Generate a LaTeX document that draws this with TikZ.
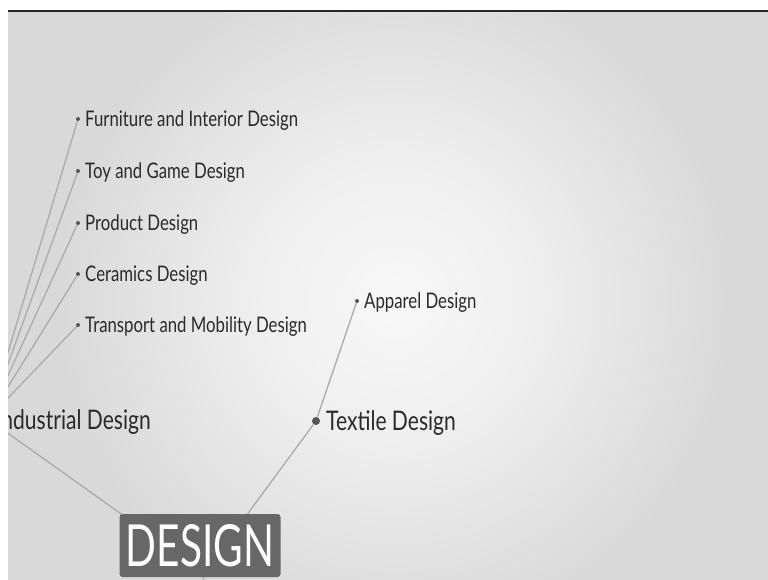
\documentclass[tikz,border=0pt]{standalone}
\usepackage{fontspec}
\setmainfont[FakeStretch=0.78]{Lato}
\newfontfamily\designfont[FakeStretch=0.70]{Lato}
\definecolor{bgin}{HTML}{F8F8F8}
\definecolor{bgout}{HTML}{D9D9D9}
\definecolor{linec}{HTML}{ABABAB}
\definecolor{dotc}{HTML}{555555}
\definecolor{txtc}{HTML}{2A2A2A}
\definecolor{boxc}{HTML}{676767}
\pgfdeclareradialshading{bgrad}{\pgfpoint{0bp}{0bp}}{color(0bp)=(bgin); color(10bp)=(bgin!72!bgout); color(25bp)=(bgout); color(50bp)=(bgout)}
\tikzset{
  dot/.style={circle, fill=dotc, inner sep=0pt, minimum size=4pt},
  bigdot/.style={circle, fill=dotc, inner sep=0pt, minimum size=8pt},
  small/.style={anchor=west, text=txtc, inner sep=0pt, yshift=-2pt, font=\fontsize{21.5}{24}\selectfont},
  mid/.style={text=txtc, inner sep=0pt, yshift=-2pt, font=\fontsize{27}{30}\selectfont},
  conn/.style={draw=linec, line width=1.3pt},
  rootbox/.style={fill=boxc, rounded corners=3pt, text=white, minimum width=161pt, minimum height=63pt, inner sep=0pt, font=\designfont\fontsize{58}{60}\selectfont}
}
\begin{document}
\begin{tikzpicture}[x=1pt,y=-1pt]
\useasboundingbox (0,0) rectangle (768,580);
\fill[white] (0,0) rectangle (768,580);
\begin{scope}
\clip (8,11) rectangle (768,580);
\fill[bgout] (8,11) rectangle (768,580);
\shade[shading=bgrad] (395,300) circle (340);
% hubs
\coordinate (dhub) at (204,573);
\coordinate (down) at (200,610);
\node[bigdot] (ind) at (-12,419) {};
\node[mid, anchor=east] (indT) at (151,420) {Industrial Design};
% children of industrial design
\node[dot] (furn) at (78,119) {};
\node[small] (furnT) at (85,119) {Furniture and Interior Design};
\node[dot] (toy) at (78,171) {};
\node[small] (toyT) at (85,171) {Toy and Game Design};
\node[dot] (prod) at (78,223) {};
\node[small] (prodT) at (85,223) {Product Design};
\node[dot] (cer) at (78,274) {};
\node[small] (cerT) at (85,274) {Ceramics Design};
\node[dot] (trans) at (78,325) {};
\node[small] (transT) at (85,325) {Transport and Mobility Design};
% textile branch
\node[bigdot] (tex) at (316,421) {};
\node[mid, anchor=west] (texT) at (326,421) {Textile Design};
\node[dot] (app) at (357,301) {};
\node[small] (appT) at (364,301) {Apparel Design};
% connectors
\draw[conn] (furn) -- (ind);
\draw[conn] (toy) -- (ind);
\draw[conn] (prod) -- (ind);
\draw[conn] (cer) -- (ind);
\draw[conn] (trans) -- (ind);
\draw[conn] (ind) -- (dhub);
\draw[conn] (tex) -- (dhub);
\draw[conn] (tex) -- (app);
\draw[conn] (dhub) -- (down);
% root
\node[rootbox] (design) at (200,545.5) {DESIGN};
\end{scope}
\draw[line width=2pt, black!85] (8,11) -- (768,11);
\end{tikzpicture}
\end{document}
